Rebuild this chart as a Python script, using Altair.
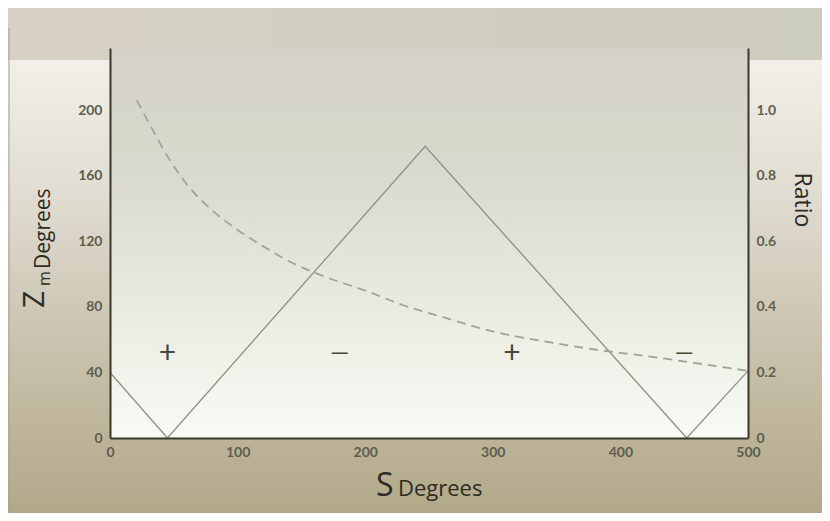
import altair as alt
import pandas as pd

# ---- data ----
s_solid = [0, 45, 247, 452, 500]
z_solid = [40, 0, 178, 0, 41]

s_dash = [21, 30, 45, 60, 80, 100, 120, 140, 170, 200, 230, 260, 300, 340, 380, 420, 460, 500]
r_dash = [1.03, 0.965, 0.86, 0.775, 0.695, 0.635, 0.585, 0.54, 0.49, 0.45, 0.405, 0.37,
          0.325, 0.295, 0.27, 0.25, 0.228, 0.205]

sign_s = [45, 180, 315, 450]
sign_z = [51, 52, 51, 52]
sign_t = ["+", "\u2014", "+", "\u2014"]
sign_f = [30, 24, 30, 24]

x_ticks = [0, 100, 200, 300, 400, 500]
z_ticks = [0, 40, 80, 120, 160, 200]
r_ticks = [0, 0.2, 0.4, 0.6, 0.8, 1.0]

W, H = 638, 390
ZMAX = 238
RMAX = ZMAX / 200.0
FONT = "Lato"
TFONT = "Open Sans"
LABEL_COLOR = "#5e5e4c"
TITLE_COLOR = "#2c2c22"
AXIS_COLOR = "#38382c"

one = pd.DataFrame({"k": [0]})
df_solid = pd.DataFrame({"S": s_solid, "Z": z_solid})
df_dash = pd.DataFrame({"S": s_dash, "R": r_dash})
df_sign = pd.DataFrame({"S": sign_s, "Z": sign_z, "T": sign_t, "F": sign_f})


def grad(stops, horizontal=False):
    return alt.LinearGradient(
        gradient="linear",
        stops=[alt.GradientStop(color=c, offset=o) for o, c in stops],
        x1=0, y1=0,
        x2=1 if horizontal else 0,
        y2=0 if horizontal else 1,
    )


def box(fill, x0, x1, y0, y1):
    return alt.Chart(one).mark_rect(color=fill).encode(
        x=alt.value(x0), x2=alt.value(x1), y=alt.value(y0), y2=alt.value(y1)
    )


bg_top = box(grad([(0, "#d7d1c5"), (0.5, "#d1cfc1"), (1, "#cdcdbd")], horizontal=True),
             -102, 712, -40, 465)
bg_sides = box(grad([(0, "#f1efe8"), (0.3, "#e0dcd1"), (0.6, "#cbc4b1"), (0.85, "#bcb297"), (1, "#b2a889")]),
               -102, 712, 12, 465)
bg_plot = box(grad([(0, "#d4d1c6"), (0.3, "#d8d9cc"), (0.65, "#e8eae0"), (1, "#fafaf5")]),
              0, W, 0, H)
edge = alt.Chart(one).mark_rule(color="#a4a496", strokeWidth=1).encode(
    x=alt.value(-101), y=alt.value(-20), y2=alt.value(465)
)

axis_common = dict(ticks=False, grid=False, domainColor=AXIS_COLOR, domainWidth=2,
                   labelFont=FONT, labelFontSize=14, labelColor=LABEL_COLOR,
                   labelFontWeight="bold", title=None, zindex=1, labelFlush=False)


def x_enc():
    return alt.X("S:Q", scale=alt.Scale(domain=[0, 500], nice=False, zero=False),
                 axis=alt.Axis(values=x_ticks, labelPadding=7, **axis_common))


def z_enc():
    return alt.Y("Z:Q", scale=alt.Scale(domain=[0, ZMAX], nice=False),
                 axis=alt.Axis(orient="left", values=z_ticks, labelPadding=8, **axis_common))


solid = alt.Chart(df_solid).mark_line(color="#8f8f87", strokeWidth=1.3).encode(
    x=x_enc(), y=z_enc()
)

signs = alt.Chart(df_sign).mark_text(font=FONT, color="#48483c",
                                     align="center", baseline="middle").encode(
    x=x_enc(), y=z_enc(), text="T:N", size=alt.Size("F:Q", scale=None, legend=None)
)

left_group = alt.layer(solid, signs)

dashed = alt.Chart(df_dash).mark_line(color="#a2a29a", strokeWidth=1.8, strokeDash=[9, 6],
                                      interpolate="monotone").encode(
    x=x_enc(),
    y=alt.Y("R:Q", scale=alt.Scale(domain=[0, RMAX], nice=False),
            axis=alt.Axis(orient="right", values=r_ticks, labelPadding=8,
                          labelExpr="datum.value == 0 ? '0' : format(datum.value, '.1f')",
                          **axis_common)),
)


def label(text, x, y, size, angle=0, align="left", baseline="alphabetic"):
    kw = dict(font=TFONT, fontSize=size, color=TITLE_COLOR, align=align, baseline=baseline)
    if angle:
        kw["angle"] = angle
    return alt.Chart(one).mark_text(**kw).encode(
        x=alt.value(x), y=alt.value(y), text=alt.value(text)
    )


titles = [
    label("S", 266, 448, 32),
    label("Degrees", 288, 448, 22),
    label("Z", -66, 260, 30, angle=270),
    label("m", -60, 238, 16, angle=270),
    label("Degrees", -60, 221, 21, angle=270),
    label("Ratio", 692, 152, 23, angle=90, align="center", baseline="middle"),
]

chart = alt.layer(bg_top, bg_sides, edge, bg_plot, left_group, dashed, *titles).resolve_scale(
    y="independent"
).properties(
    width=W, height=H,
    autosize=alt.AutoSizeParams(type="none"),
    padding={"left": 102, "top": 40, "right": 74, "bottom": 75},
).configure_view(stroke=None).configure(background="#e9e7de")

chart.save("out.html", embed_options={"renderer": "svg", "actions": False})
